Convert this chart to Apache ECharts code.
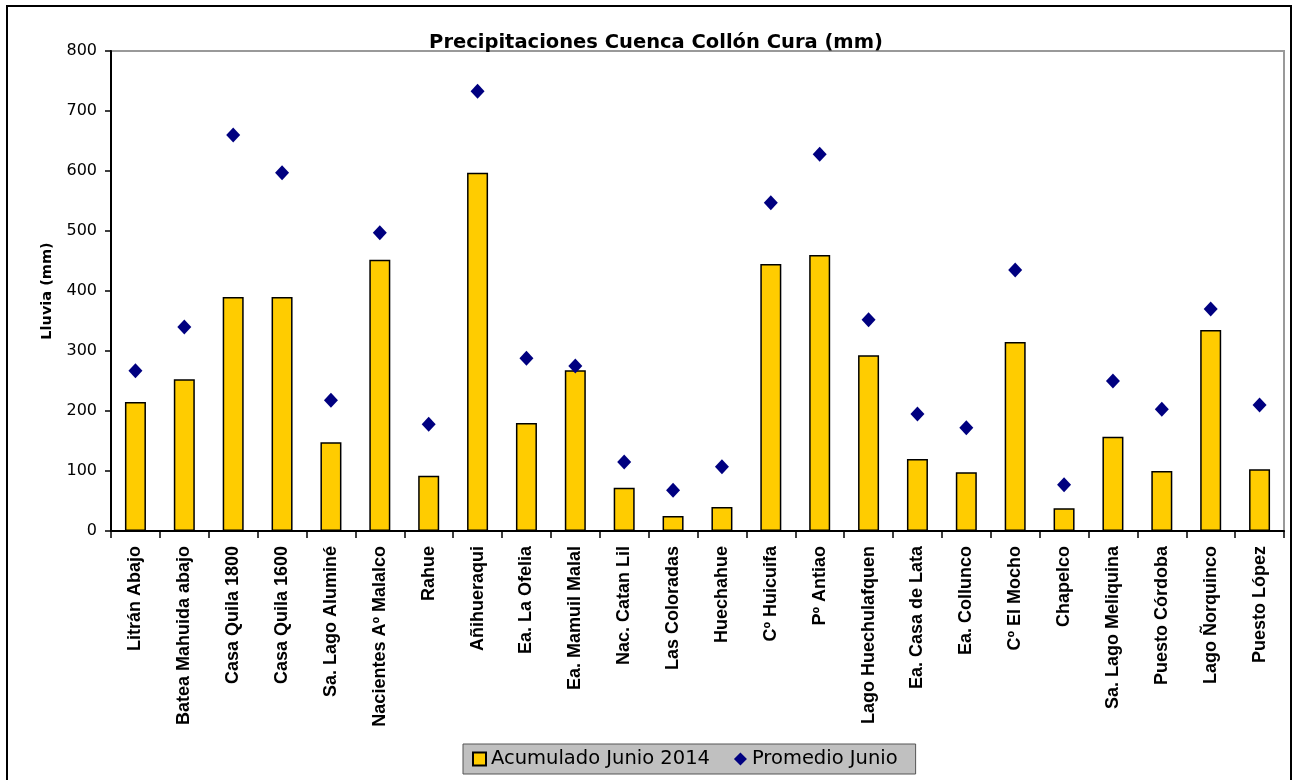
<!DOCTYPE html>
<html><head><meta charset="utf-8">
<script src="https://cdn.jsdelivr.net/npm/echarts@6/dist/echarts.min.js"></script>
<style>html,body{margin:0;padding:0;background:#fff}#c{width:1297px;height:780px}</style>
</head><body><div id="c"></div>
<script>
const categories = ["Litrán Abajo","Batea Mahuida abajo","Casa Quila 1800","Casa Quila 1600","Sa. Lago Aluminé","Nacientes Aº Malalco","Rahue","Añihueraqui","Ea. La Ofelia","Ea. Mamuil Malal","Nac. Catan Lil","Las Coloradas","Huechahue","Cº Huicuifa","Pº Antiao","Lago Huechulafquen","Ea. Casa de Lata","Ea. Collunco","Cº El Mocho","Chapelco","Sa. Lago Meliquina","Puesto Córdoba","Lago Ñorquinco","Puesto López"];
const acumulado = [215,253,390,390,148,452,92,597,180,268,72,25,40,445,460,293,120,98,315,38,157,100,335,103];
const promedio = [267,340,660,597,218,497,178,733,288,275,115,68,107,547,628,352,195,172,435,77,250,203,370,210];
const yTicks = [0,100,200,300,400,500,600,700,800];

const WIDE = '"DejaVu Sans", Verdana, sans-serif';
const ARIAL = '"Liberation Sans", Arial, sans-serif';
const chart = echarts.init(document.getElementById('c'));
chart.setOption({
  animation:false,
  textStyle:{fontFamily:ARIAL},
  title:{text:'Precipitaciones Cuenca Collón Cura (mm)',left:651,top:28,textAlign:'center',
    textStyle:{fontSize:19.5,fontWeight:'bold',color:'#000',fontFamily:WIDE}},
  graphic:[{type:'rect',shape:{x:7,y:6,width:1284,height:800},style:{fill:'none',stroke:'#000',lineWidth:2},z:-1}],
  legend:{left:463,top:744,itemGap:24,itemWidth:13,itemHeight:13,
    backgroundColor:'#c0c0c0',borderColor:'#555',borderWidth:1,padding:[5,18,5,9],
    textStyle:{fontSize:19.5,color:'#000',fontFamily:WIDE},
    data:[{name:'Acumulado Junio 2014',icon:'rect'},{name:'Promedio Junio',icon:'diamond'}]},
  grid:{left:111,right:13,top:51,bottom:249,show:true,borderColor:'#999',borderWidth:2,backgroundColor:'#fff'},
  xAxis:{type:'category',data:categories,boundaryGap:true,
    axisLine:{lineStyle:{color:'#000',width:2}},
    axisTick:{show:true,alignWithLabel:false,length:7,lineStyle:{color:'#000',width:1.5}},
    axisLabel:{rotate:90,interval:0,fontSize:18,fontWeight:'bold',color:'#000',margin:15,fontFamily:ARIAL}},
  yAxis:{type:'value',min:0,max:800,interval:100,name:'Lluvia (mm)',nameLocation:'middle',nameGap:56,
    nameTextStyle:{fontSize:14.5,fontWeight:'bold',color:'#000',fontFamily:WIDE},
    splitLine:{show:false},
    axisLine:{show:true,lineStyle:{color:'#000',width:2}},
    axisTick:{show:true,length:6,lineStyle:{color:'#000',width:1.5}},
    axisLabel:{fontSize:16,color:'#000',margin:14,fontFamily:WIDE,formatter:v=>yTicks.includes(v)?String(v):''}},
  series:[
    {name:'Acumulado Junio 2014',type:'bar',data:acumulado,barWidth:21,
      itemStyle:{color:'#FFCC00',borderColor:'#000',borderWidth:1.5}},
    {name:'Promedio Junio',type:'scatter',data:promedio,symbol:'diamond',symbolSize:[14,15],
      itemStyle:{color:'#000080',opacity:1},z:5}
  ]
});
</script></body></html>
